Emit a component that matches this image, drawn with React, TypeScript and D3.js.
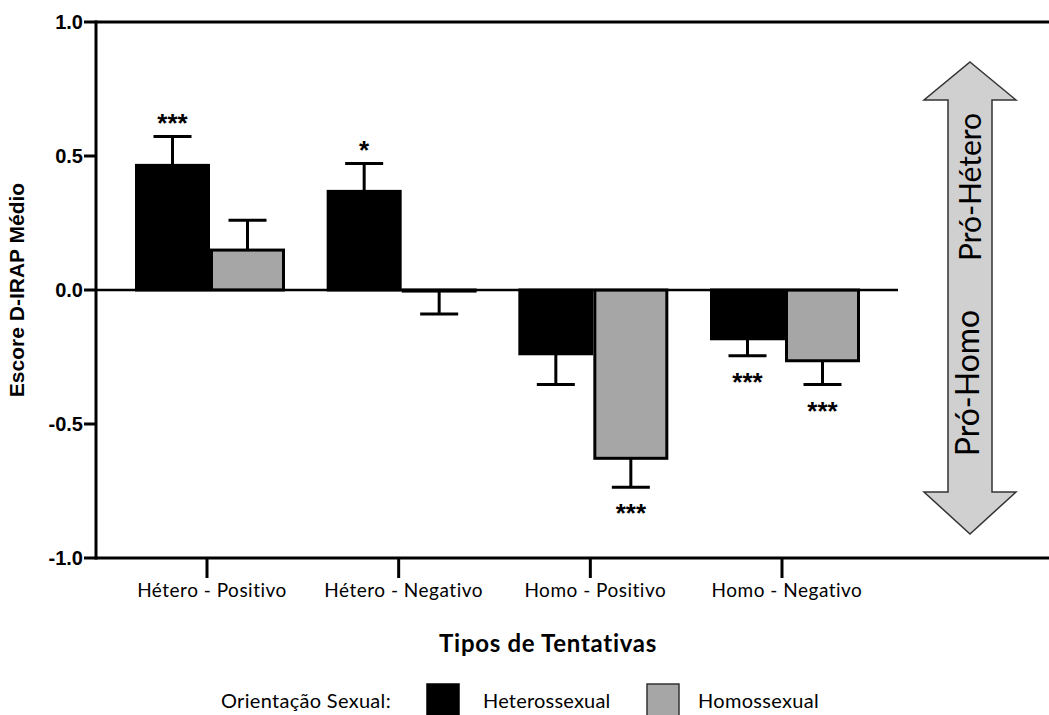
import React from "react";
import * as d3 from "d3";

const categories = ["Hétero - Positivo", "Hétero - Negativo", "Homo - Positivo", "Homo - Negativo"];
const seriesNames = ["Heterossexual", "Homossexual"];
const heteroMeans = [0.465, 0.368, -0.238, -0.182];
const heteroErr = [0.108, 0.104, 0.115, 0.063];
const homoMeans = [0.149, -0.004, -0.628, -0.264];
const homoErr = [0.111, 0.086, 0.108, 0.089];
const heteroStars = ["***", "*", "", "***"];
const homoStars = ["", "", "***", "***"];
const yTicks = [1.0, 0.5, 0.0, -0.5, -1.0];

const W = 1049;
const H = 715;

export default function App() {
  const y = d3.scaleLinear().domain([-1, 1]).range([558, 22]);
  const x = d3.scaleLinear().domain([0, 3]).range([210, 785]);
  const bw = 75;
  const capW = 38;
  const axisX = 96;
  const gray = "#a6a6a6";
  const labelFont = "Lato, 'Open Sans', sans-serif";
  const boldFont = "'Liberation Sans', Arial, sans-serif";
  const starSize = 26;

  const series = [
    { means: heteroMeans, errs: heteroErr, stars: heteroStars, fill: "#000", off: -bw / 2 },
    { means: homoMeans, errs: homoErr, stars: homoStars, fill: gray, off: bw / 2 },
  ];

  // arrow geometry
  const ax = 970, shaftHalf = 22, headHalf = 46, tipTop = 62, baseTop = 100, baseBot = 492, tipBot = 534;
  const arrowPath = d3.path();
  arrowPath.moveTo(ax, tipTop);
  arrowPath.lineTo(ax + headHalf, baseTop);
  arrowPath.lineTo(ax + shaftHalf, baseTop);
  arrowPath.lineTo(ax + shaftHalf, baseBot);
  arrowPath.lineTo(ax + headHalf, baseBot);
  arrowPath.lineTo(ax, tipBot);
  arrowPath.lineTo(ax - headHalf, baseBot);
  arrowPath.lineTo(ax - shaftHalf, baseBot);
  arrowPath.lineTo(ax - shaftHalf, baseTop);
  arrowPath.lineTo(ax - headHalf, baseTop);
  arrowPath.closePath();

  return (
    <svg width={W} height={H} style={{ position: "absolute", left: 0, top: 0, background: "#fff" }}>
      {/* frame lines */}
      <line x1={axisX} x2={W} y1={y(1)} y2={y(1)} stroke="#000" strokeWidth={3} />
      <line x1={axisX} x2={W} y1={y(-1)} y2={y(-1)} stroke="#000" strokeWidth={3} />
      <line x1={axisX} x2={axisX} y1={y(1) - 1.5} y2={y(-1) + 1.5} stroke="#000" strokeWidth={3} />
      {/* y ticks */}
      {yTicks.map((t) => (
        <g key={t}>
          <line x1={axisX - 12} x2={axisX} y1={y(t)} y2={y(t)} stroke="#000" strokeWidth={3} />
          <text x={axisX - 13} y={y(t)} dy="0.36em" textAnchor="end" fontFamily={boldFont} fontWeight="bold" fontSize={20}>
            {t.toFixed(1)}
          </text>
        </g>
      ))}
      <text
        transform={`translate(24,${y(0)}) rotate(-90)`}
        textAnchor="middle"
        fontFamily={boldFont}
        fontWeight="bold"
        fontSize={21}
      >
        Escore D-IRAP Médio
      </text>
      {/* x ticks and labels */}
      {categories.map((c, i) => (
        <g key={c}>
          <line x1={x(i) - 3} x2={x(i) - 3} y1={y(-1)} y2={y(-1) + 20} stroke="#000" strokeWidth={3} />
          <text x={x(i) + 2} y={597} textAnchor="middle" fontFamily={labelFont} fontSize={19} letterSpacing={0.5}>
            {c}
          </text>
        </g>
      ))}
      {/* bars */}
      {series.map((s, si) =>
        s.means.map((m, i) => {
          const cx = x(i) + s.off;
          const y0 = y(0);
          const ym = y(m);
          const top = Math.min(y0, ym);
          const h = Math.abs(ym - y0);
          const errEnd = y(m + (m >= 0 ? s.errs[i] : -s.errs[i]));
          const starCenter = m >= 0 ? errEnd - 20 : errEnd + 20;
          return (
            <g key={`${si}-${i}`}>
              <line x1={cx} x2={cx} y1={ym} y2={errEnd} stroke="#000" strokeWidth={3} />
              <line x1={cx - capW / 2} x2={cx + capW / 2} y1={errEnd} y2={errEnd} stroke="#000" strokeWidth={3} />
              {h > 0.5 && (
                <rect
                  x={cx - bw / 2 + 1.5}
                  y={top}
                  width={bw - 3}
                  height={h}
                  fill={s.fill}
                  stroke="#000"
                  strokeWidth={3}
                />
              )}
              {s.stars[i] && (
                <text
                  x={cx}
                  y={starCenter + starSize * 0.58}
                  textAnchor="middle"
                  fontFamily={boldFont}
                  fontWeight="bold"
                  fontSize={starSize}
                >
                  {s.stars[i]}
                </text>
              )}
            </g>
          );
        })
      )}
      {/* zero line */}
      <line x1={axisX} x2={898} y1={y(0)} y2={y(0)} stroke="#000" strokeWidth={2.5} />
      {/* arrow */}
      <path d={arrowPath.toString()} fill="#d0d0d0" stroke="#333" strokeWidth={1.5} />
      <text
        transform={`translate(981,187) rotate(-90)`}
        textAnchor="middle"
        fontFamily={labelFont}
        fontSize={30}
      >
        Pró-Hétero
      </text>
      <text
        transform={`translate(979,383) rotate(-90)`}
        textAnchor="middle"
        fontFamily={labelFont}
        fontSize={32}
      >
        Pró-Homo
      </text>
      {/* x title */}
      <text x={548} y={652} textAnchor="middle" fontFamily={labelFont} fontWeight="bold" fontSize={24} letterSpacing={0.7}>
        Tipos de Tentativas
      </text>
      {/* legend */}
      <text x={221} y={708} fontFamily={labelFont} fontSize={20} letterSpacing={0.3}>
        Orientação Sexual:
      </text>
      <rect x={427} y={684} width={32} height={40} fill="#000" stroke="#000" strokeWidth={1.5} />
      <text x={483} y={708} fontFamily={labelFont} fontSize={20} letterSpacing={0.2}>
        {seriesNames[0]}
      </text>
      <rect x={647} y={684} width={32} height={40} fill={gray} stroke="#333" strokeWidth={1.5} />
      <text x={698} y={708} fontFamily={labelFont} fontSize={20} letterSpacing={0.3}>
        {seriesNames[1]}
      </text>
    </svg>
  );
}
